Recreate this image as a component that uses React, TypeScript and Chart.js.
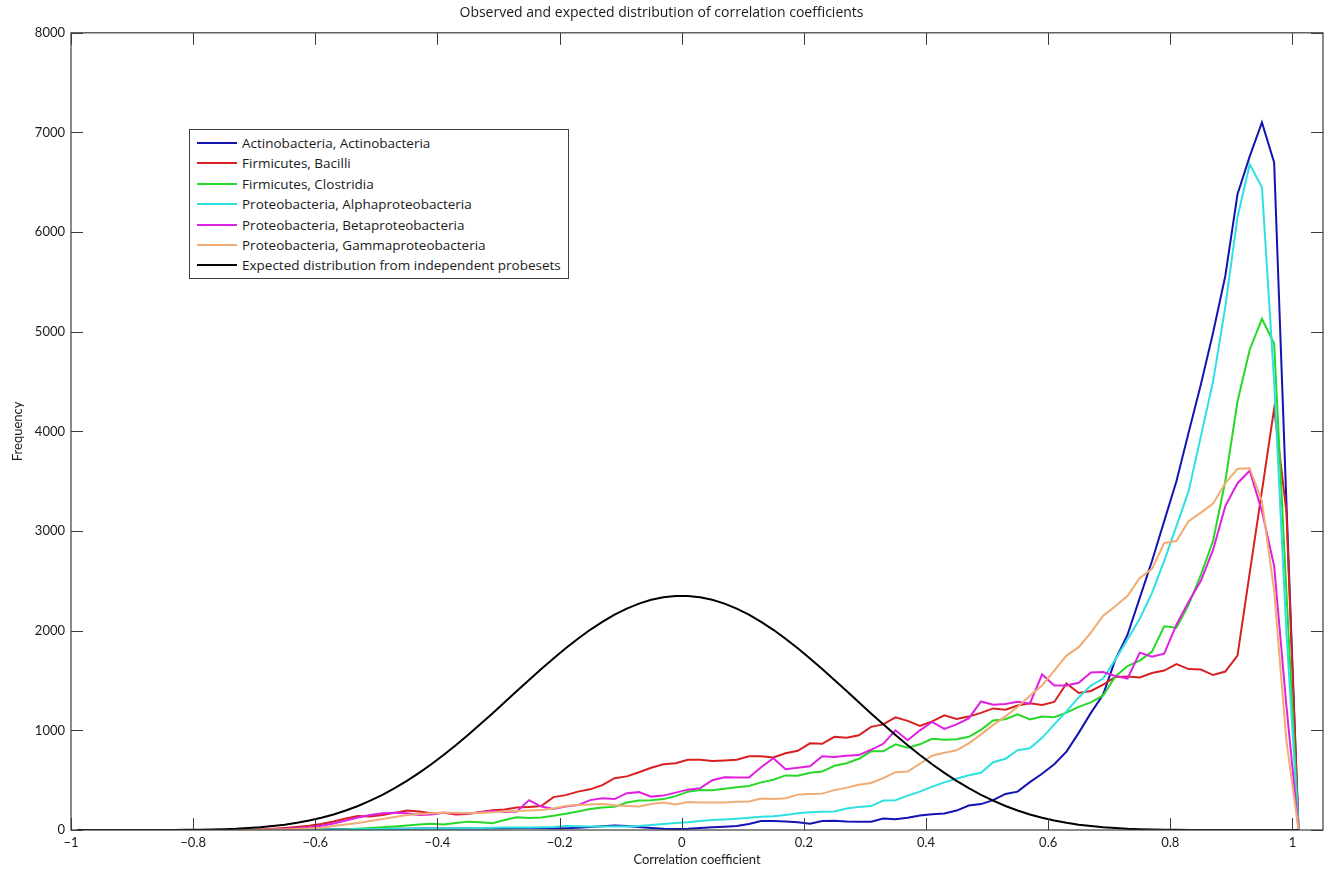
import React, { useEffect, useRef } from "react";
import { Chart, registerables } from "chart.js";

Chart.register(...registerables);

const chartTitle = "Observed and expected distribution of correlation coefficients";
const xAxisTitle = "Correlation coefficient";
const yAxisTitle = "Frequency";

const xTickValues = [-1, -0.8, -0.6, -0.4, -0.2, 0, 0.2, 0.4, 0.6, 0.8, 1];
const yTickValues = [0, 1000, 2000, 3000, 4000, 5000, 6000, 7000, 8000];

// histogram bin centres
const binCenters = [
  -0.99, -0.97, -0.95, -0.93, -0.91, -0.89, -0.87, -0.85, -0.83, -0.81,
  -0.79, -0.77, -0.75, -0.73, -0.71, -0.69, -0.67, -0.65, -0.63, -0.61,
  -0.59, -0.57, -0.55, -0.53, -0.51, -0.49, -0.47, -0.45, -0.43, -0.41,
  -0.39, -0.37, -0.35, -0.33, -0.31, -0.29, -0.27, -0.25, -0.23, -0.21,
  -0.19, -0.17, -0.15, -0.13, -0.11, -0.09, -0.07, -0.05, -0.03, -0.01,
  0.01, 0.03, 0.05, 0.07, 0.09, 0.11, 0.13, 0.15, 0.17, 0.19,
  0.21, 0.23, 0.25, 0.27, 0.29, 0.31, 0.33, 0.35, 0.37, 0.39,
  0.41, 0.43, 0.45, 0.47, 0.49, 0.51, 0.53, 0.55, 0.57, 0.59,
  0.61, 0.63, 0.65, 0.67, 0.69, 0.71, 0.73, 0.75, 0.77, 0.79,
  0.81, 0.83, 0.85, 0.87, 0.89, 0.91, 0.93, 0.95, 0.97, 0.99,
  1.01,
];

const actinobacteria = [
  0, 0, 0, 0, 0, 0, 0, 0, 0, 0,
  0, 0, 0, 0, 0, 0, 0, 2, 3, 5,
  6, 8, 8, 10, 10, 12, 12, 12, 14, 14,
  15, 15, 16, 16, 18, 18, 20, 20, 20, 18,
  17, 22, 30, 38, 44, 40, 30, 20, 12, 10,
  12, 20, 27, 33, 40, 60, 90, 90, 86, 78,
  62, 90, 92, 86, 84, 84, 115, 108, 122, 145,
  158, 166, 195, 245, 260, 300, 362, 385, 480, 565,
  660, 787, 975, 1175, 1360, 1710, 1960, 2330, 2700, 3100,
  3500, 3990, 4470, 4990, 5560, 6380, 6760, 7100, 6700, 3300,
  0,
];

const bacilli = [
  0, 0, 0, 0, 0, 0, 0, 0, 0, 0,
  0, 0, 0, 0, 0, 6, 12, 20, 30, 42,
  60, 85, 115, 140, 136, 150, 172, 195, 185, 168,
  172, 155, 160, 180, 198, 205, 225, 232, 240, 330,
  350, 385, 408, 450, 520, 538, 580, 625, 660, 670,
  705, 705, 693, 698, 705, 740, 740, 727, 770, 795,
  870, 865, 935, 925, 950, 1035, 1060, 1130, 1095, 1045,
  1090, 1150, 1115, 1138, 1175, 1220, 1208, 1250, 1272, 1255,
  1285, 1470, 1375, 1395, 1460, 1535, 1540, 1530, 1575, 1600,
  1665, 1615, 1610, 1555, 1590, 1750, 2580, 3400, 4230, 3200,
  0,
];

const clostridia = [
  0, 0, 0, 0, 0, 0, 0, 0, 0, 0,
  0, 0, 0, 0, 0, 0, 0, 0, 0, 0,
  0, 3, 6, 12, 20, 28, 36, 45, 55, 62,
  55, 70, 84, 78, 68, 100, 127, 120, 125, 142,
  162, 185, 210, 225, 232, 275, 295, 298, 310, 340,
  385, 402, 398, 415, 428, 442, 478, 505, 548, 545,
  575, 586, 645, 670, 715, 790, 790, 860, 825, 860,
  915, 905, 910, 935, 1005, 1100, 1112, 1160, 1110, 1138,
  1132, 1178, 1235, 1280, 1350, 1540, 1645, 1700, 1790, 2045,
  2030, 2260, 2560, 2900, 3500, 4300, 4820, 5130, 4880, 2400,
  0,
];

const alphaproteobacteria = [
  0, 0, 0, 0, 0, 0, 0, 0, 0, 0,
  0, 0, 0, 0, 0, 0, 0, 0, 2, 3,
  4, 5, 6, 8, 10, 10, 12, 12, 14, 15,
  16, 18, 18, 20, 22, 24, 24, 26, 28, 30,
  40, 38, 35, 34, 34, 34, 40, 50, 60, 70,
  78, 90, 100, 106, 114, 124, 132, 138, 150, 168,
  178, 182, 186, 215, 232, 240, 295, 298, 345, 385,
  435, 478, 515, 550, 575, 680, 715, 800, 821, 925,
  1060, 1190, 1330, 1450, 1520, 1710, 1915, 2120, 2380, 2700,
  3050, 3400, 3950, 4500, 5250, 6150, 6680, 6450, 4500, 2000,
  0,
];

const betaproteobacteria = [
  0, 0, 0, 0, 0, 0, 0, 0, 0, 0,
  0, 0, 0, 0, 0, 3, 6, 10, 18, 26,
  42, 65, 95, 125, 150, 168, 172, 167, 150, 155,
  172, 168, 165, 175, 192, 180, 185, 300, 235, 210,
  235, 250, 300, 318, 310, 370, 380, 335, 345, 375,
  405, 418, 500, 530, 528, 526, 630, 720, 610, 625,
  640, 740, 732, 745, 752, 805, 865, 1000, 900, 1000,
  1085, 1015, 1060, 1120, 1290, 1258, 1265, 1288, 1268, 1560,
  1450, 1450, 1478, 1580, 1585, 1545, 1520, 1780, 1740, 1770,
  2060, 2290, 2500, 2810, 3250, 3480, 3605, 3200, 2650, 1250,
  0,
];

const gammaproteobacteria = [
  0, 0, 0, 0, 0, 0, 0, 0, 0, 0,
  0, 0, 0, 0, 0, 2, 4, 6, 10, 14,
  22, 40, 55, 70, 90, 110, 130, 150, 160, 168,
  174, 172, 168, 172, 178, 185, 190, 195, 200, 215,
  240, 251, 255, 260, 248, 242, 236, 260, 276, 255,
  280, 277, 275, 276, 283, 286, 315, 312, 318, 355,
  362, 365, 400, 425, 455, 472, 520, 580, 586, 665,
  745, 775, 800, 870, 960, 1055, 1140, 1235, 1347, 1450,
  1600, 1750, 1835, 1980, 2150, 2245, 2350, 2530, 2620, 2880,
  2900, 3100, 3185, 3275, 3480, 3625, 3630, 3300, 2400, 900,
  0,
];

const expectedIndependent = [
  0, 0, 0, 0, 0, 0, 0, 0, 1, 2,
  3, 5, 8, 12, 19, 27, 39, 53, 72, 95,
  123, 156, 196, 241, 294, 353, 420, 493, 573, 660,
  753, 851, 954, 1061, 1170, 1282, 1394, 1505, 1615, 1722,
  1823, 1920, 2009, 2089, 2161, 2222, 2272, 2310, 2335, 2348,
  2348, 2335, 2310, 2272, 2222, 2161, 2089, 2009, 1920, 1823,
  1722, 1615, 1505, 1394, 1282, 1170, 1061, 954, 851, 753,
  660, 573, 493, 420, 353, 294, 241, 196, 156, 123,
  95, 72, 53, 39, 27, 19, 12, 8, 5, 3,
  2, 1, 0, 0, 0, 0, 0, 0, 0, 0,
  0,
];

const seriesLabels = [
  "Actinobacteria, Actinobacteria",
  "Firmicutes, Bacilli",
  "Firmicutes, Clostridia",
  "Proteobacteria, Alphaproteobacteria",
  "Proteobacteria, Betaproteobacteria",
  "Proteobacteria, Gammaproteobacteria",
  "Expected distribution from independent probesets",
];
const seriesValues = [
  actinobacteria,
  bacilli,
  clostridia,
  alphaproteobacteria,
  betaproteobacteria,
  gammaproteobacteria,
  expectedIndependent,
];
const seriesColors = ["#1414b4", "#d82020", "#28d828", "#2ee0e0", "#e020e0", "#f0ac72", "#000000"];

const FONT = "Lato, 'Open Sans', sans-serif";
const TEXT_FONT = "'Open Sans', Lato, sans-serif";

function fmtX(v: number): string {
  const r = Math.round(v * 10) / 10;
  return r < 0 ? "\u2212" + String(-r) : String(r);
}

const axesBoxPlugin = {
  id: "axesBox",
  afterDatasetsDraw(chart: any) {
    const { ctx, chartArea, scales } = chart;
    const { left, right, top, bottom } = chartArea;
    const xs = scales.x;
    const ys = scales.y;
    const tl = 12;
    ctx.save();
    ctx.strokeStyle = "#3c3c3c";
    ctx.lineWidth = 1.2;
    ctx.strokeRect(left, top, right - left, bottom - top);
    ctx.beginPath();
    for (const v of xTickValues) {
      const px = Math.round(xs.getPixelForValue(v)) + 0.5;
      ctx.moveTo(px, bottom);
      ctx.lineTo(px, bottom - tl);
      ctx.moveTo(px, top);
      ctx.lineTo(px, top + tl);
    }
    for (const v of yTickValues) {
      const py = Math.round(ys.getPixelForValue(v)) + 0.5;
      ctx.moveTo(left, py);
      ctx.lineTo(left + tl, py);
      ctx.moveTo(right, py);
      ctx.lineTo(right - tl, py);
    }
    ctx.lineWidth = 1;
    ctx.stroke();
    ctx.restore();
  },
};

export default function App() {
  const canvasRef = useRef<HTMLCanvasElement | null>(null);

  useEffect(() => {
    const canvas = canvasRef.current;
    if (!canvas) return;
    const drawOrder = [6, 5, 4, 3, 2, 1, 0];
    const datasets = seriesLabels.map((label, k) => ({
      label,
      data: binCenters.map((x, i) => ({ x, y: seriesValues[k][i] })),
      borderColor: seriesColors[k],
      backgroundColor: seriesColors[k],
      borderWidth: 2,
      pointRadius: 0,
      tension: 0,
      fill: false,
      order: drawOrder[k],
    }));

    const chart = new Chart(canvas, {
      type: "line",
      data: { datasets },
      plugins: [axesBoxPlugin],
      options: {
        animation: false,
        responsive: false,
        devicePixelRatio: 1,
        layout: { padding: { left: 0, right: 1, top: 0, bottom: 0 } },
        plugins: {
          legend: { display: false },
          tooltip: { enabled: false },
          title: {
            display: true,
            text: chartTitle,
            color: "#1a1a1a",
            font: { family: TEXT_FONT, size: 14, weight: "normal", lineHeight: 1.2 },
            padding: { top: 5, bottom: 11 },
          },
        },
        scales: {
          x: {
            type: "linear",
            min: -1,
            max: 1.05,
            grid: { display: false, drawTicks: false },
            border: { display: false },
            afterFit: (s: any) => {
              s.height = 40;
            },
            afterBuildTicks: (s: any) => {
              s.ticks = xTickValues.map((v) => ({ value: v }));
            },
            ticks: {
              autoSkip: false,
              maxRotation: 0,
              padding: 5,
              color: "#1a1a1a",
              font: { family: FONT, size: 13 },
              callback: (v: any) => fmtX(Number(v)),
            },
            title: {
              display: true,
              text: xAxisTitle,
              color: "#1a1a1a",
              font: { family: FONT, size: 13 },
              padding: { top: 0, bottom: 2 },
            },
          },
          y: {
            type: "linear",
            min: 0,
            max: 8000,
            grid: { display: false, drawTicks: false },
            border: { display: false },
            afterFit: (s: any) => {
              s.width = 71;
            },
            afterBuildTicks: (s: any) => {
              s.ticks = yTickValues.map((v) => ({ value: v }));
            },
            ticks: {
              autoSkip: false,
              padding: 6,
              color: "#1a1a1a",
              font: { family: FONT, size: 13 },
              callback: (v: any) => String(v),
            },
            title: {
              display: true,
              text: yAxisTitle,
              color: "#1a1a1a",
              font: { family: FONT, size: 13 },
              padding: { top: 10, bottom: 0 },
            },
          },
        },
      } as any,
    });
    return () => chart.destroy();
  }, []);

  const legendTop = 129;
  const legendLeft = 189;

  return (
    <div style={{ position: "absolute", left: 0, top: 0, width: 1324, height: 870, background: "#fff" }}>
      <canvas ref={canvasRef} width={1324} height={870} style={{ width: 1324, height: 870, display: "block" }} />
      <div
        style={{
          position: "absolute",
          left: legendLeft,
          top: legendTop,
          width: 380,
          height: 150,
          boxSizing: "border-box",
          border: "1px solid #404040",
          background: "#fff",
          fontFamily: TEXT_FONT,
          fontSize: 13.5,
          color: "#1a1a1a",
        }}
      >
        {seriesLabels.map((label, i) => (
          <div
            key={label}
            style={{
              position: "absolute",
              left: 0,
              top: 3 + i * 20.4,
              height: 20,
              display: "flex",
              alignItems: "center",
              whiteSpace: "nowrap",
            }}
          >
            <span style={{ display: "inline-block", marginLeft: 7, width: 40, height: 2, background: seriesColors[i] }} />
            <span style={{ marginLeft: 5 }}>{label}</span>
          </div>
        ))}
      </div>
    </div>
  );
}
